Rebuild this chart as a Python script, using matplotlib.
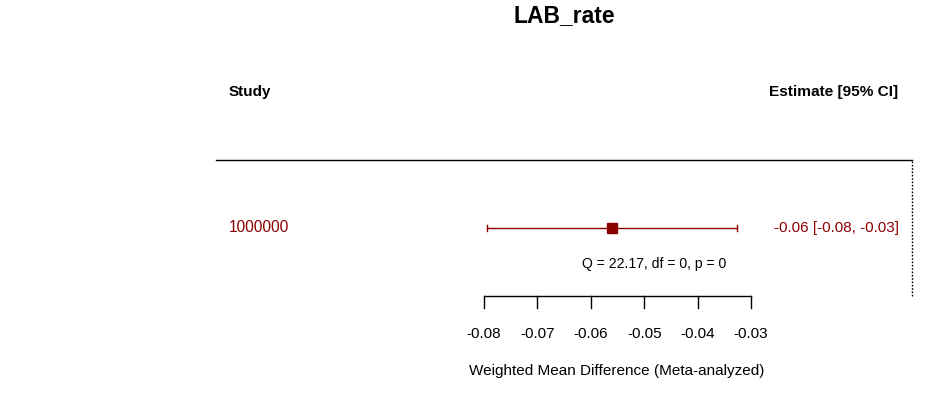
import matplotlib
matplotlib.use("Agg")
import matplotlib.pyplot as plt

plt.rcParams['font.family'] = ['Liberation Sans', 'DejaVu Sans']

title = "LAB_rate"
studies = ["1000000"]
estimates = [-0.0560]
ci_low = [-0.0794]
ci_high = [-0.0326]
labels_ci = ["-0.06 [-0.08, -0.03]"]
het_text = "Q = 22.17, df = 0, p = 0"
xticks = [-0.08, -0.07, -0.06, -0.05, -0.04, -0.03]
xticklabels = ["-0.08", "-0.07", "-0.06", "-0.05", "-0.04", "-0.03"]
xlabel = "Weighted Mean Difference (Meta-analyzed)"

W, H = 937, 393
fig = plt.figure(figsize=(W / 100, H / 100), dpi=100)
ax = fig.add_axes([0, 0, 1, 1])
# data x-scale: -0.08 at px 484, -0.03 at px 751
px_per = (751 - 484) / 0.05
x0 = -0.08 - 484 / px_per
x1 = -0.08 + (W - 484) / px_per
ax.set_xlim(x0, x1)
ax.set_ylim(H, 0)
ax.axis('off')

dark = '#8B0000'

def px(v):
    return x0 + v / px_per

# title centered over plot region
ax.text(px(564), 16, title, ha='center', va='center', fontsize=16.5, fontweight='bold')
ax.text(px(229), 92, "Study", ha='left', va='center', fontsize=11, fontweight='bold')
ax.text(px(898), 92, "Estimate [95% CI]", ha='right', va='center', fontsize=11.1, fontweight='bold')

# header line
ax.plot([px(216), px(912)], [160, 160], color='black', lw=1)
# dotted vertical
ax.plot([px(912), px(912)], [161, 297], color='black', lw=1, ls=(0, (1.2, 1.2)))

row_y = [228]
for i, s in enumerate(studies):
    y = row_y[i]
    ax.text(px(229), y, s, ha='left', va='center', fontsize=11.2, color=dark)
    ax.plot([ci_low[i], ci_high[i]], [y, y], color=dark, lw=1)
    ax.plot([ci_low[i], ci_low[i]], [y - 3, y + 3], color=dark, lw=1)
    ax.plot([ci_high[i], ci_high[i]], [y - 3, y + 3], color=dark, lw=1)
    ax.plot([estimates[i]], [y], marker='s', ms=6.5, color=dark, mec=dark)
    ax.text(px(899), y, labels_ci[i], ha='right', va='center', fontsize=11, color=dark)

ax.text(px(654), 264, het_text, ha='center', va='center', fontsize=10.1)

# x axis
ax.plot([xticks[0], xticks[-1]], [296, 296], color='black', lw=1)
for t, lab in zip(xticks, xticklabels):
    ax.plot([t, t], [296, 308], color='black', lw=1)
    ax.text(t, 334, lab, ha='center', va='center', fontsize=11)
ax.text(px(617), 371, xlabel, ha='center', va='center', fontsize=11)

fig.savefig("out.png", dpi=100)
